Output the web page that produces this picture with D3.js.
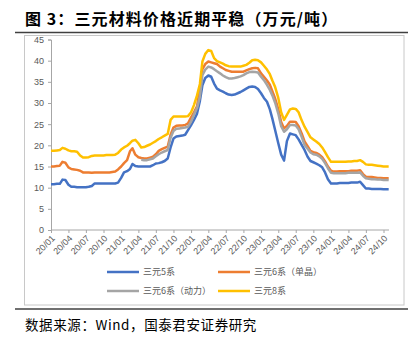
<!DOCTYPE html>
<html>
<head>
<meta charset="utf-8">
<script src="https://cdn.jsdelivr.net/npm/d3@7"></script>
<style>
  html, body { margin: 0; padding: 0; background: #fff; }
  svg { display: block; }
  .tick-label { font-family: "Liberation Sans", Arial, sans-serif; font-size: 9px; fill: #595959; }
  .legend-label { font-family: "Noto Sans CJK SC", sans-serif; font-size: 9px; fill: #595959; }
</style>
</head>
<body>
<div id="chart"></div>
<script>
// half-month sample dates
var dates = (
  '20-01-01 20-01-16 20-02-01 20-02-16 20-03-01 20-03-16 20-04-01 20-04-16 20-05-01 20-05-16 20-06-01 20-06-16 ' +
  '20-07-01 20-07-16 20-08-01 20-08-16 20-09-01 20-09-16 20-10-01 20-10-16 20-11-01 20-11-16 20-12-01 20-12-16 ' +
  '21-01-01 21-01-16 21-02-01 21-02-16 21-03-01 21-03-16 21-04-01 21-04-16 21-05-01 21-05-16 21-06-01 21-06-16 ' +
  '21-07-01 21-07-16 21-08-01 21-08-16 21-09-01 21-09-16 21-10-01 21-10-16 21-11-01 21-11-16 21-12-01 21-12-16 ' +
  '22-01-01 22-01-16 22-02-01 22-02-16 22-03-01 22-03-16 22-04-01 22-04-16 22-05-01 22-05-16 22-06-01 22-06-16 ' +
  '22-07-01 22-07-16 22-08-01 22-08-16 22-09-01 22-09-16 22-10-01 22-10-16 22-11-01 22-11-16 22-12-01 22-12-16 ' +
  '23-01-01 23-01-16 23-02-01 23-02-16 23-03-01 23-03-16 23-04-01 23-04-16 23-05-01 23-05-16 23-06-01 23-06-16 ' +
  '23-07-01 23-07-16 23-08-01 23-08-16 23-09-01 23-09-16 23-10-01 23-10-16 23-11-01 23-11-16 23-12-01 23-12-16 ' +
  '24-01-01 24-01-16 24-02-01 24-02-16 24-03-01 24-03-16 24-04-01 24-04-16 24-05-01 24-05-16 24-06-01 24-06-16 ' +
  '24-07-01 24-07-16 24-08-01 24-08-16 24-09-01 24-09-16 24-10-01 24-10-16 24-10-28'
).split(' ');

// 万元/吨
var ncm5 = [
  10.8,10.8,10.9,10.9,11.9,11.8,10.7,10.2,10.2,10.1,10.1,10.1,10.1,10.2,10.4,11.0,11.0,11.0,11.0,11.0,11.0,11.0,11.0,11.2,
  12.3,13.6,13.9,14.4,15.6,15.1,15.0,15.0,15.0,15.0,15.0,15.3,15.7,15.8,16.0,16.3,16.9,19.5,21.6,22.1,22.2,22.3,22.5,23.6,
  24.8,26.0,27.5,30.5,34.2,35.9,36.5,36.2,34.6,33.4,33.0,32.7,32.3,32.0,31.9,32.0,32.3,32.6,33.0,33.4,33.8,33.9,33.8,33.3,
  32.3,31.2,30.3,28.5,26.3,23.5,20.5,17.8,16.4,21.0,22.8,22.6,22.4,21.4,20.1,18.9,17.3,16.3,16.0,15.7,15.3,14.8,13.6,12.0,
  11.0,11.0,11.0,11.1,11.1,11.1,11.1,11.2,11.2,11.2,11.4,10.6,9.8,9.8,9.7,9.7,9.7,9.7,9.6,9.6,9.6
];
var ncm6Single = [
  15.0,15.0,15.1,15.2,16.1,15.9,14.8,14.4,14.3,14.2,14.0,13.6,13.6,13.6,13.5,13.6,13.6,13.6,13.6,13.6,13.6,13.7,13.8,14.3,
  15.0,15.8,16.5,18.6,19.3,17.8,17.2,17.0,16.9,16.9,17.1,17.3,17.9,18.7,19.1,19.4,19.7,22.5,24.2,24.6,24.7,24.7,24.8,25.2,
  26.6,27.8,29.2,33.5,38.0,39.2,39.8,39.6,39.4,39.2,38.6,38.2,37.8,37.6,37.4,37.4,37.4,37.4,37.4,37.7,38.0,38.2,38.3,38.2,
  37.0,36.2,35.3,34.3,32.8,31.0,28.5,25.5,24.0,24.6,25.6,25.6,25.5,24.5,22.8,20.9,19.8,18.7,18.4,18.2,17.8,17.2,16.2,15.0,
  14.0,13.8,13.8,13.9,13.9,13.9,13.9,14.0,14.0,14.0,14.1,13.2,12.6,12.5,12.5,12.4,12.3,12.3,12.2,12.2,12.2
];
var ncm6Power = [
  null,null,null,null,null,null,null,null,null,null,null,null,null,null,null,null,null,null,null,null,null,null,null,null,
  null,null,null,null,null,null,null,16.6,16.5,16.5,16.7,16.9,17.4,17.9,18.3,18.6,18.9,21.8,23.4,23.9,24.0,24.1,24.2,24.4,
  25.6,27.2,28.8,31.5,36.6,37.9,38.6,38.4,38.0,37.5,37.0,36.5,36.1,35.8,35.8,35.9,36.1,36.3,36.6,37.0,37.3,37.4,37.3,37.2,
  36.2,35.4,34.3,33.1,31.8,30.0,27.5,24.5,23.2,23.8,24.8,24.8,24.7,23.8,22.0,20.1,19.2,18.3,17.9,17.8,17.4,16.8,15.8,14.6,
  13.5,13.4,13.4,13.4,13.4,13.4,13.5,13.5,13.5,13.5,13.6,12.8,12.2,12.1,12.0,12.0,11.9,11.9,11.8,11.8,11.8
];
var ncm8 = [
  18.7,18.7,18.8,18.9,19.4,19.2,18.8,18.6,18.6,18.5,17.6,17.1,17.1,17.2,17.5,17.6,17.6,17.6,17.6,17.7,17.7,17.7,17.8,18.2,
  19.0,19.5,19.9,20.5,21.1,21.3,20.5,19.5,19.6,19.9,20.2,20.6,21.0,21.5,21.9,22.3,22.7,26.0,26.8,26.8,26.8,26.8,26.8,26.9,
  27.8,29.5,31.8,34.5,39.8,41.6,42.5,42.3,40.6,39.9,39.6,39.3,38.9,38.7,38.6,38.6,38.6,38.6,38.8,39.0,39.5,40.1,40.2,40.1,
  39.6,38.8,37.9,36.8,35.3,33.7,31.2,27.8,26.0,27.2,28.5,28.7,28.6,27.8,25.9,24.4,23.1,21.9,21.4,20.9,20.3,19.5,18.4,17.2,
  16.1,16.1,16.1,16.1,16.1,16.1,16.2,16.2,16.3,16.3,16.5,16.1,15.5,15.4,15.4,15.3,15.2,15.1,15.0,15.0,15.0
];

var seriesNames = ['三元5系', '三元6系（单晶）', '三元6系（动力）', '三元8系'];
var seriesColors = ['#4472C4', '#ED7D31', '#A5A5A5', '#FFC000'];
var seriesValues = [ncm5, ncm6Single, ncm6Power, ncm8];

var xTicks = ['20/01','20/04','20/07','20/10','21/01','21/04','21/07','21/10','22/01','22/04',
              '22/07','22/10','23/01','23/04','23/07','23/10','24/01','24/04','24/07','24/10'];
var yTicks = [0, 5, 10, 15, 20, 25, 30, 35, 40, 45];

var title = '图 3：三元材料价格近期平稳（万元/吨）';
var source = '数据来源：Wind，国泰君安证券研究';

var size = { w: 408, h: 342 };
var plot = { left: 51, right: 383.5, top: 39.5, bottom: 230, end: 389 };

var parseDate = d3.timeParse('%y-%m-%d');
var parseTick = d3.timeParse('%y/%m');

var svg = d3.select('#chart').append('svg')
  .attr('width', size.w)
  .attr('height', size.h)
  .attr('viewBox', [0, 0, size.w, size.h].join(' '));

// title and rules
svg.append('text')
  .attr('x', 25).attr('y', 25)
  .attr('font-family', '"Noto Sans CJK SC", sans-serif')
  .attr('font-size', 16).attr('font-weight', 'bold')
  .attr('letter-spacing', 1.1)
  .attr('fill', '#000')
  .text(title);
svg.append('line')
  .attr('x1', 15).attr('x2', 408).attr('y1', 32.5).attr('y2', 32.5)
  .attr('stroke', '#404040').attr('stroke-width', 1.5);
svg.append('rect')
  .attr('x', 24.5).attr('y', 35.5).attr('width', 379.5).attr('height', 269.5)
  .attr('fill', 'none').attr('stroke', '#c8c8c8').attr('stroke-width', 1);
svg.append('line')
  .attr('x1', 15).attr('x2', 408).attr('y1', 309).attr('y2', 309)
  .attr('stroke', '#404040').attr('stroke-width', 1.5);
svg.append('text')
  .attr('x', 25).attr('y', 330)
  .attr('font-family', '"Noto Sans CJK SC", sans-serif')
  .attr('font-size', 13.5)
  .attr('letter-spacing', 0.6)
  .attr('fill', '#000')
  .text(source);

// scales
var x = d3.scaleTime()
  .domain([parseTick('20/01'), parseTick('24/10')])
  .range([plot.left, plot.right]);
var y = d3.scaleLinear()
  .domain([0, 45])
  .range([plot.bottom, plot.top]);

// y axis
var yAxis = d3.axisLeft(y)
  .tickValues(yTicks)
  .tickSize(3)
  .tickPadding(4);
var gy = svg.append('g')
  .attr('transform', 'translate(' + plot.left + ',0)')
  .call(yAxis);
gy.select('.domain').attr('stroke', '#a6a6a6');
gy.selectAll('.tick line').attr('stroke', '#a6a6a6');
gy.selectAll('.tick text').attr('class', 'tick-label').attr('font-size', null).attr('font-family', null);

// x axis, rotated labels
var xAxis = d3.axisBottom(x)
  .tickValues(xTicks.map(parseTick))
  .tickSize(3)
  .tickFormat(d3.timeFormat('%y/%m'));
var gx = svg.append('g')
  .attr('transform', 'translate(0,' + plot.bottom + ')')
  .call(xAxis);
gx.select('.domain').remove();
gx.append('line')
  .attr('x1', plot.left).attr('x2', plot.end)
  .attr('stroke', '#a6a6a6');
gx.selectAll('.tick line').attr('stroke', '#a6a6a6');
gx.selectAll('.tick text')
  .attr('class', 'tick-label')
  .attr('font-size', null).attr('font-family', null)
  .attr('text-anchor', 'end')
  .attr('dy', null)
  .attr('y', 0)
  .attr('transform', 'translate(4,9) rotate(-45)');

// series lines
var rows = seriesValues.map(function(values, i) {
  return {
    name: seriesNames[i],
    color: seriesColors[i],
    points: values.map(function(v, j) { return { date: parseDate(dates[j]), value: v }; })
  };
});

var line = d3.line()
  .defined(function(d) { return d.value != null; })
  .x(function(d) { return x(d.date); })
  .y(function(d) { return y(d.value); });

svg.append('g').selectAll('path').data(rows).enter().append('path')
  .attr('d', function(d) { return line(d.points); })
  .attr('fill', 'none')
  .attr('stroke', function(d) { return d.color; })
  .attr('stroke-width', 2.5)
  .attr('stroke-linejoin', 'round');

// legend, two per row
var legend = svg.append('g').selectAll('g').data(rows).enter().append('g')
  .attr('transform', function(d, i) {
    return 'translate(' + [107 + (i % 2) * 111, 272 + Math.floor(i / 2) * 19].join(',') + ')';
  });
legend.append('line')
  .attr('x1', 0).attr('x2', 32)
  .attr('stroke', function(d) { return d.color; })
  .attr('stroke-width', 2.5);
legend.append('text')
  .attr('class', 'legend-label')
  .attr('x', 36).attr('dy', '0.35em')
  .text(function(d) { return d.name; });
</script>
</body>
</html>
